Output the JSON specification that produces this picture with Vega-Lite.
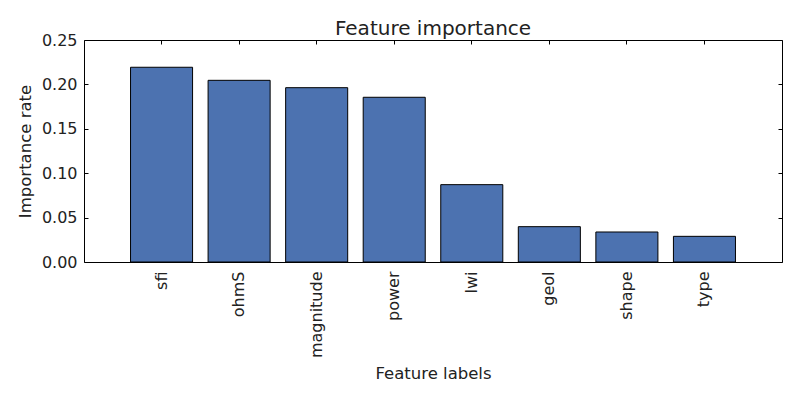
{
  "$schema": "https://vega.github.io/schema/vega-lite/v6.json",
  "width": 698,
  "height": 222,
  "autosize": {"type": "none"},
  "padding": {"left": 84, "top": 40, "right": 18, "bottom": 138},
  "background": "white",
  "config": {
    "font": "DejaVu Sans",
    "view": {"stroke": "black", "strokeWidth": 1},
    "axis": {
      "domain": false,
      "grid": false,
      "tickColor": "black",
      "tickSize": -4,
      "labelFont": "DejaVu Sans",
      "labelFontSize": 16,
      "labelColor": "#222222",
      "titleFont": "DejaVu Sans",
      "titleFontSize": 16.5,
      "titleFontWeight": "normal",
      "titleColor": "#222222"
    },
    "title": {"font": "DejaVu Sans", "fontSize": 20, "fontWeight": "normal", "color": "#222222"}
  },
  "title": {"text": "Feature importance", "offset": -7},
  "data": {
    "values": [
      {"feature": "sfi", "importance": 0.2193},
      {"feature": "ohmS", "importance": 0.2046},
      {"feature": "magnitude", "importance": 0.1963},
      {"feature": "power", "importance": 0.1855},
      {"feature": "lwi", "importance": 0.0871},
      {"feature": "geol", "importance": 0.0398},
      {"feature": "shape", "importance": 0.0338},
      {"feature": "type", "importance": 0.0289}
    ]
  },
  "resolve": {"axis": {"x": "independent", "y": "independent"}},
  "layer": [
    {
      "mark": {"type": "bar", "color": "#4C72B0", "stroke": "black", "strokeWidth": 1},
      "encoding": {
        "x": {
          "field": "feature",
          "type": "nominal",
          "sort": null,
          "scale": {"paddingInner": 0.2, "paddingOuter": 0.6},
          "axis": {"title": "Feature labels", "labelAngle": -90, "labelPadding": 13, "titlePadding": 8}
        },
        "y": {
          "field": "importance",
          "type": "quantitative",
          "scale": {"domain": [0, 0.25], "nice": false},
          "axis": {"title": "Importance rate", "values": [0, 0.05, 0.1, 0.15, 0.2, 0.25], "format": ".2f", "labelPadding": 11, "titlePadding": 8}
        }
      }
    },
    {
      "mark": {"type": "bar", "opacity": 0},
      "encoding": {
        "x": {
          "field": "feature",
          "type": "nominal",
          "sort": null,
          "axis": {"orient": "top", "labels": false, "title": null}
        },
        "y": {
          "field": "importance",
          "type": "quantitative",
          "axis": {"orient": "right", "labels": false, "title": null, "values": [0, 0.05, 0.1, 0.15, 0.2, 0.25]}
        }
      }
    }
  ]
}
